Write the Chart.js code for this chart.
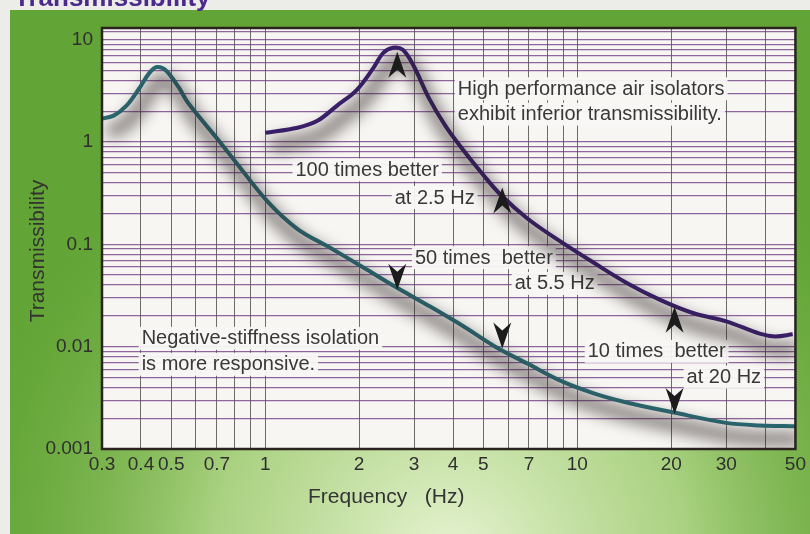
<!DOCTYPE html>
<html>
<head>
<meta charset="utf-8">
<script src="https://cdn.jsdelivr.net/npm/chart.js@4"></script>
<style>
  html, body { margin: 0; padding: 0; background: #fff; }
  #wrap { width: 810px; height: 534px; }
</style>
</head>
<body>
<div id="wrap"><canvas id="transChart" width="810" height="534"></canvas></div>
<script>
// negative-stiffness isolator (teal)
const negFreq = [0.3, 0.327, 0.36, 0.395, 0.425, 0.449, 0.479, 0.528, 0.565, 0.72, 0.81, 1.02, 1.27, 1.61, 2.07, 2.63, 3.35, 4.29, 5.46, 6.95, 8.9, 11.3, 14.4, 20.4, 30, 38.4, 50];
const negT = [1.69, 1.81, 2.28, 3.35, 4.71, 5.4, 5.05, 3.43, 2.43, 0.98, 0.62, 0.26, 0.141, 0.093, 0.059, 0.038, 0.025, 0.016, 0.010, 0.0068, 0.0046, 0.0035, 0.00285, 0.00227, 0.0018, 0.0017, 0.00167];

// high performance air isolator (purple)
const airFreq = [1.0, 1.27, 1.47, 1.70, 1.96, 2.22, 2.39, 2.57, 2.76, 2.98, 3.35, 3.78, 4.29, 4.96, 5.68, 6.95, 8.9, 11.3, 14.4, 18.5, 23.6, 30, 38.4, 43.1, 49];
const airT = [1.23, 1.38, 1.61, 2.27, 3.2, 5.28, 7.44, 8.33, 7.96, 5.65, 2.67, 1.44, 0.85, 0.49, 0.305, 0.177, 0.105, 0.066, 0.042, 0.0285, 0.0212, 0.0177, 0.0134, 0.0126, 0.0132];

// axis ticks
const xTickLabels = ['0.3', '0.4', '0.5', '0.7', '1', '2', '3', '4', '5', '7', '10', '20', '30', '50'];
const yTickLabels = ['0.001', '0.01', '0.1', '1', '10'];

// arrows: frequency, tip value, direction
const arrowFreq = [2.65, 2.65, 5.75, 5.75, 20.5, 20.5];
const arrowTip = [7.6, 0.036, 0.36, 0.0096, 0.0245, 0.0022];
const arrowDir = ['up', 'down', 'up', 'down', 'up', 'down'];

// notes: text, left frequency, middle value
const noteText = ['High performance air isolators', 'exhibit inferior transmissibility.', '100 times better', 'at 2.5 Hz',
  '50 times  better', 'at 5.5 Hz', 'Negative-stiffness isolation', 'is more responsive.', '10 times  better', 'at 20 Hz'];
const noteFreq = [4.14, 4.14, 1.25, 2.6, 3.02, 6.3, 0.402, 0.402, 10.8, 22.4];
const noteVal = [3.35, 1.89, 0.54, 0.29, 0.075, 0.042, 0.0122, 0.0068, 0.0091, 0.0051];

const FONT = '"Liberation Sans", Arial, Helvetica, sans-serif';

const xGrid = [];
[0.1, 1, 10].forEach(d => { for (let m = 1; m <= 9; m++) { const v = +(m * d).toPrecision(3); if (v >= 0.3 && v <= 50) xGrid.push(v); } });
const yGrid = [];
[0.001, 0.01, 0.1, 1].forEach(d => { for (let m = 1; m <= 9; m++) yGrid.push(+(m * d).toPrecision(3)); });
yGrid.push(10, 12);

const negPts = negFreq.map((f, i) => ({ x: f, y: negT[i] }));
const airPts = airFreq.map((f, i) => ({ x: f, y: airT[i] }));

// the shadow stroke is drawn off canvas, only its blurred shadow lands in the plot
const OFF = 3000;

const framePlugin = {
  id: 'frame',
  beforeDraw(chart) {
    const { ctx, chartArea: a, width, height } = chart;
    ctx.save();
    ctx.fillStyle = '#ecece8';
    ctx.fillRect(0, 0, width, height);
    ctx.fillStyle = '#62a436';
    ctx.fillRect(10, 10, width - 10, height - 10);
    const g = ctx.createRadialGradient(450, 560, 20, 450, 560, 500);
    g.addColorStop(0, 'rgba(230,243,208,0.97)');
    g.addColorStop(0.45, 'rgba(188,221,148,0.8)');
    g.addColorStop(1, 'rgba(120,180,70,0)');
    ctx.fillStyle = g;
    ctx.fillRect(10, 10, width - 10, height - 10);
    // cut-off heading
    ctx.fillStyle = '#4b2a8c';
    ctx.font = 'bold 26px ' + FONT;
    ctx.textBaseline = 'alphabetic';
    ctx.fillText('Transmissibility', 14, 6);
    // plot paper
    ctx.fillStyle = '#f7f6f3';
    ctx.fillRect(a.left, a.top, a.right - a.left, a.bottom - a.top);
    ctx.restore();
  },
  beforeDatasetsDraw(chart) {
    const { ctx, scales } = chart;
    ctx.save();
    ctx.font = '20px ' + FONT;
    ctx.textBaseline = 'middle';
    noteText.forEach((t, i) => {
      const x = scales.x.getPixelForValue(noteFreq[i]);
      const y = scales.y.getPixelForValue(noteVal[i]);
      const w = ctx.measureText(t).width;
      ctx.fillStyle = 'rgba(248,247,244,0.95)';
      ctx.fillRect(x - 3, y - 11, w + 6, 23);
      ctx.fillStyle = '#383838';
      ctx.fillText(t, x, y + 1);
    });
    ctx.restore();
  },
  beforeDatasetDraw(chart, args) {
    const { ctx, chartArea: a } = chart;
    ctx.save();
    if (chart.data.datasets[args.index].isShadow) {
      ctx.beginPath();
      ctx.rect(a.left, a.top, a.right - a.left, a.bottom - a.top);
      ctx.clip();
      ctx.translate(-OFF, 0);
      ctx.shadowColor = 'rgba(40,30,30,0.6)';
      ctx.shadowBlur = 15;
      ctx.shadowOffsetX = OFF + 5;
      ctx.shadowOffsetY = 13;
    }
  },
  afterDatasetDraw(chart) {
    chart.ctx.restore();
  },
  afterDatasetsDraw(chart) {
    const { ctx, scales } = chart;
    ctx.save();
    ctx.fillStyle = '#1c1c1c';
    arrowFreq.forEach((f, i) => {
      const x = scales.x.getPixelForValue(f);
      const y = scales.y.getPixelForValue(arrowTip[i]);
      const s = arrowDir[i] === 'up' ? 1 : -1;
      ctx.beginPath();
      ctx.moveTo(x, y);
      ctx.lineTo(x - 9, y + s * 26);
      ctx.lineTo(x, y + s * 18);
      ctx.lineTo(x + 9, y + s * 26);
      ctx.closePath();
      ctx.fill();
    });
    ctx.restore();
  },
  afterDraw(chart) {
    const { ctx, chartArea: a } = chart;
    ctx.save();
    ctx.strokeStyle = '#2a2320';
    ctx.lineWidth = 2.5;
    ctx.strokeRect(a.left, a.top, a.right - a.left, a.bottom - a.top);
    ctx.fillStyle = '#333';
    ctx.font = '21px ' + FONT;
    ctx.textAlign = 'left';
    ctx.textBaseline = 'middle';
    ctx.fillText('Frequency   (Hz)', 308, 497);
    ctx.translate(38, 251);
    ctx.rotate(-Math.PI / 2);
    ctx.textAlign = 'center';
    ctx.fillText('Transmissibility', 0, 0);
    ctx.restore();
  }
};

const lineStyle = { pointRadius: 0, tension: 0.35, fill: false };
const shadowStyle = { ...lineStyle, borderColor: '#000', borderWidth: 13, isShadow: true, clip: false };
const ctx = document.getElementById('transChart').getContext('2d');
new Chart(ctx, {
  type: 'line',
  data: {
    datasets: [
      { ...shadowStyle, label: 'shadow 1', data: negPts },
      { ...shadowStyle, label: 'shadow 2', data: airPts },
      { ...lineStyle, label: 'Negative-stiffness', data: negPts, borderColor: '#2b6e78', borderWidth: 4 },
      { ...lineStyle, label: 'Air isolator', data: airPts, borderColor: '#3b2070', borderWidth: 4 }
    ]
  },
  options: {
    responsive: false,
    animation: false,
    devicePixelRatio: 1,
    layout: { padding: { top: 28, right: 8, left: 0, bottom: 0 } },
    plugins: { legend: { display: false }, tooltip: { enabled: false } },
    scales: {
      x: {
        type: 'logarithmic',
        min: 0.3,
        max: 50,
        afterFit: (s) => { s.height = 85; },
        afterBuildTicks: (s) => { s.ticks = xGrid.map(v => ({ value: v })); },
        grid: { color: 'rgba(60,60,60,0.75)', lineWidth: 1, drawTicks: false },
        border: { display: false },
        ticks: {
          autoSkip: false,
          maxRotation: 0,
          padding: 4,
          color: '#2f2f2f',
          font: { family: FONT, size: 19 },
          callback: (v) => {
            const t = String(+(+v).toPrecision(3));
            return xTickLabels.includes(t) ? t : '';
          }
        }
      },
      y: {
        type: 'logarithmic',
        min: 0.001,
        max: 13,
        afterFit: (s) => { s.width = 102; },
        afterBuildTicks: (s) => { s.ticks = yGrid.map(v => ({ value: v })); },
        grid: { color: 'rgba(115,65,135,0.8)', lineWidth: 1.3, drawTicks: false },
        border: { display: false },
        ticks: {
          autoSkip: false,
          padding: 9,
          color: '#2f2f2f',
          font: { family: FONT, size: 19 },
          callback: (v) => {
            const t = String(+(+v).toPrecision(3));
            return yTickLabels.includes(t) ? t : '';
          }
        }
      }
    }
  },
  plugins: [framePlugin]
});
</script>
</body>
</html>
